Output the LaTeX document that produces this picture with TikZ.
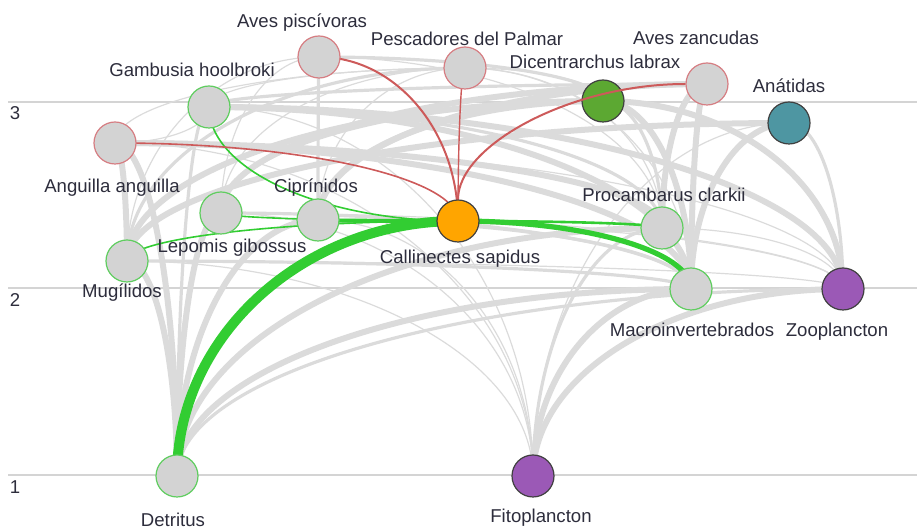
\documentclass[tikz,border=0pt]{standalone}
\usepackage{fontspec}
\setmainfont{Liberation Sans}
\usetikzlibrary{calc,backgrounds}
\definecolor{fwNode}  {RGB}{211,211,211}
\definecolor{fwEdge}  {RGB}{219,219,219}
\definecolor{fwLevel} {RGB}{212,212,212}
\definecolor{fwGreen} {RGB}{ 50,205, 50}
\definecolor{fwGreenL}{RGB}{ 95,205, 95}
\definecolor{fwRed}   {RGB}{205, 90, 90}
\definecolor{fwRedL}  {RGB}{214,125,130}
\definecolor{fwOrange}{RGB}{255,165,  0}
\definecolor{fwOlive} {RGB}{ 92,168, 50}
\definecolor{fwTeal}  {RGB}{ 78,150,162}
\definecolor{fwPurple}{RGB}{155, 89,182}
\definecolor{fwInk}   {RGB}{ 45, 45, 60}
% prey -> predator: leaves the prey vertically, reaches the predator sideways
\newcommand{\trophlink}[3][]{%
  \draw[#1] (#2.center) .. controls ($(#2)!0.55!(#2|-#3)$)
                             and ($(#3)!0.55!(#2|-#3)$) .. (#3.center);}

\begin{document}
\begin{tikzpicture}[x=0.5pt,y=-0.5pt,
  every node/.style={font=\fontsize{9.3}{11}\selectfont,text=fwInk},
  sp/.style={circle,minimum size=21pt,inner sep=0pt,fill=fwNode,line width=0.6pt},
  prey/.style={sp,draw=fwGreenL},
  pred/.style={sp,draw=fwRedL},
  focal/.style={sp,draw=black!75},
  level/.style={draw=fwLevel,line width=1pt},
  flowbig/.style={draw=fwEdge,line width=3pt},
  flowmid/.style={draw=fwEdge,line width=1.6pt},
  flowlow/.style={draw=fwEdge,line width=0.6pt},
  eaten/.style={draw=fwGreen},
  eats/.style={draw=fwRed}
]
\useasboundingbox (0,0) rectangle (917,528);

% species
\node[pred] (AP) at (319, 57) {};
\node[pred] (PP) at (465, 68) {};
\node[pred] (AZ) at (707, 84) {};
\node[focal,fill=fwOlive] (DL) at (603,101) {};
\node[focal,fill=fwTeal] (AN) at (789,123) {};
\node[prey] (GH) at (209,107) {};
\node[pred] (AA) at (115,143) {};
\node[prey] (CI) at (318,220) {};
\node[prey] (LG) at (221,213) {};
\node[prey] (MU) at (127,261) {};
\node[focal,fill=fwOrange] (CS) at (458,221) {};
\node[prey] (PC) at (662,228) {};
\node[prey] (MI) at (691,289) {};
\node[focal,fill=fwPurple] (ZO) at (843,289) {};
\node[prey] (DT) at (177,476) {};
\node[focal,fill=fwPurple] (FI) at (533,476) {};

% names
\node (tAP) at (302, 23) {Aves piscívoras};
\node (tPP) at (467, 39) {Pescadores del Palmar};
\node (tAZ) at (696, 38) {Aves zancudas};
\node (tDL) at (595, 62) {Dicentrarchus labrax};
\node (tAN) at (789, 86) {Anátidas};
\node (tGH) at (192, 70) {Gambusia hoolbroki};
\node (tAA) at (112,188) {Anguilla anguilla};
\node (tCI) at (316,188) {Ciprínidos};
\node (tLG) at (232,248) {Lepomis gibossus};
\node (tMU) at (122,293) {Mugílidos};
\node (tCS) at (460,259) {Callinectes sapidus};
\node (tPC) at (664,195) {Procambarus clarkii};
\node (tMI) at (692,330) {Macroinvertebrados};
\node (tZO) at (837,332) {Zooplancton};
\node (tDT) at (173,520) {Detritus};
\node (tFI) at (541,518) {Fitoplancton};

% trophic levels
\node (n3) at (15,113) {3};
\node (n2) at (15,300) {2};
\node (n1) at (15,487) {1};

\begin{scope}[on background layer]
\draw[level] (8,102) -- (917,102);
\draw[level] (8,288) -- (917,288);
\draw[level] (8,475) -- (917,475);

% rest of the web
\trophlink[flowbig]{DT}{MU} \trophlink[flowbig]{DT}{AA} \trophlink[flowbig]{DT}{CI}
\trophlink[flowbig]{DT}{LG} \trophlink[flowbig]{DT}{PC} \trophlink[flowbig]{DT}{MI}
\trophlink[flowbig]{FI}{ZO} \trophlink[flowbig]{FI}{MI}
\trophlink[flowbig]{MI}{AZ} \trophlink[flowbig]{MI}{AN} \trophlink[flowbig]{MI}{GH}
\trophlink[flowbig]{MI}{AA} \trophlink[flowbig]{MI}{DL}
\trophlink[flowbig]{PC}{AZ} \trophlink[flowbig]{PC}{AA}
\trophlink[flowbig]{ZO}{GH} \trophlink[flowbig]{ZO}{DL}
\trophlink[flowbig]{MU}{DL} \trophlink[flowbig]{MU}{AN} \trophlink[flowbig]{MU}{AA}
\trophlink[flowbig]{CI}{DL} \trophlink[flowbig]{LG}{AZ} \trophlink[flowbig]{CI}{AZ}

\trophlink[flowmid]{DT}{GH} \trophlink[flowmid]{DT}{ZO} \trophlink[flowmid]{FI}{PC}
\trophlink[flowmid]{MI}{CI} \trophlink[flowmid]{MI}{LG} \trophlink[flowmid]{MI}{MU}
\trophlink[flowmid]{PC}{DL} \trophlink[flowmid]{PC}{GH} \trophlink[flowmid]{ZO}{AN}
\trophlink[flowmid]{LG}{DL} \trophlink[flowmid]{GH}{AZ} \trophlink[flowmid]{CI}{AP}
\trophlink[flowmid]{MU}{PP} \trophlink[flowmid]{DL}{AP}

\trophlink[flowlow]{FI}{MU} \trophlink[flowlow]{FI}{CI} \trophlink[flowlow]{FI}{LG}
\trophlink[flowlow]{FI}{GH} \trophlink[flowlow]{FI}{AN} \trophlink[flowlow]{FI}{AA}
\trophlink[flowlow]{ZO}{MU} \trophlink[flowlow]{ZO}{CI} \trophlink[flowlow]{ZO}{LG}
\trophlink[flowlow]{ZO}{PC} \trophlink[flowlow]{ZO}{AA} \trophlink[flowlow]{CI}{PP}
\trophlink[flowlow]{LG}{AP} \trophlink[flowlow]{LG}{PP} \trophlink[flowlow]{MU}{AP}
\trophlink[flowlow]{GH}{AA} \trophlink[flowlow]{GH}{PP} \trophlink[flowlow]{AA}{PP}
\trophlink[flowlow]{DL}{PP} \trophlink[flowlow]{PC}{AP} \trophlink[flowlow]{PC}{PP}
\trophlink[flowlow]{MI}{PP}

% what Callinectes eats
\trophlink[eaten,line width=5pt]{DT}{CS}
\trophlink[eaten,line width=2.6pt]{MI}{CS}
\trophlink[eaten,line width=2pt]{CI}{CS}
\trophlink[eaten,line width=1.3pt]{PC}{CS}
\trophlink[eaten,line width=0.8pt]{LG}{CS}
\trophlink[eaten,line width=0.8pt]{MU}{CS}
\trophlink[eaten,line width=0.8pt]{GH}{CS}

% what eats Callinectes
\trophlink[eats,line width=1pt]{CS}{AP}
\trophlink[eats,line width=0.7pt]{CS}{PP}
\trophlink[eats,line width=0.8pt]{CS}{AA}
\end{scope}

\draw[eats,line width=1pt] (CS) .. controls ($(CS)!0.55!(CS|-AZ)$)
                                and ($(AZ)!0.55!(CS|-AZ)$) .. (AZ);
\end{tikzpicture}
\end{document}
